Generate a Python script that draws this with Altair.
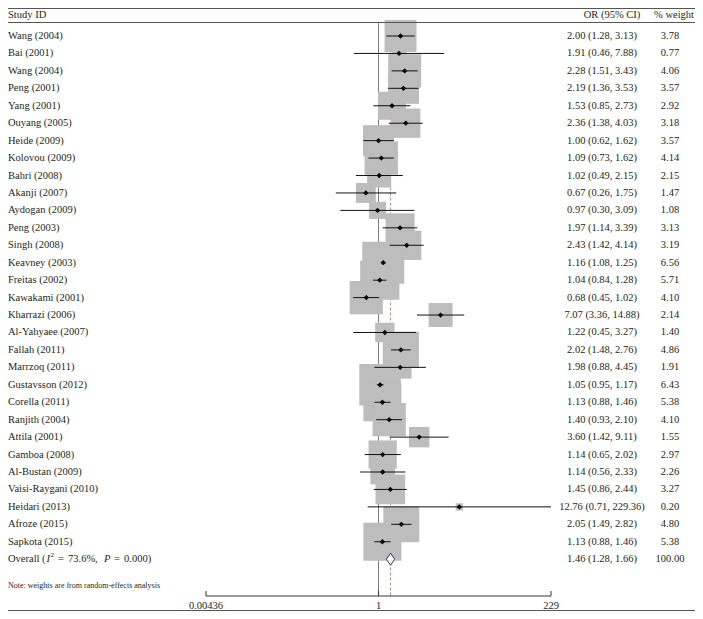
import altair as alt
import pandas as pd

studies = ["Wang (2004)", "Bai (2001)", "Wang (2004)", "Peng (2001)", "Yang (2001)",
           "Ouyang (2005)", "Heide (2009)", "Kolovou (2009)", "Bahri (2008)", "Akanji (2007)",
           "Aydogan (2009)", "Peng (2003)", "Singh (2008)", "Keavney (2003)", "Freitas (2002)",
           "Kawakami (2001)", "Kharrazi (2006)", "Al-Yahyaee (2007)", "Fallah (2011)", "Marrzoq (2011)",
           "Gustavsson (2012)", "Corella (2011)", "Ranjith (2004)", "Attila (2001)", "Gamboa (2008)",
           "Al-Bustan (2009)", "Vaisi-Raygani (2010)", "Heidari (2013)", "Afroze (2015)", "Sapkota (2015)"]
or_est = [2.00, 1.91, 2.28, 2.19, 1.53, 2.36, 1.00, 1.09, 1.02, 0.67,
          0.97, 1.97, 2.43, 1.16, 1.04, 0.68, 7.07, 1.22, 2.02, 1.98,
          1.05, 1.13, 1.40, 3.60, 1.14, 1.14, 1.45, 12.76, 2.05, 1.13]
ci_low = [1.28, 0.46, 1.51, 1.36, 0.85, 1.38, 0.62, 0.73, 0.49, 0.26,
          0.30, 1.14, 1.42, 1.08, 0.84, 0.45, 3.36, 0.45, 1.48, 0.88,
          0.95, 0.88, 0.93, 1.42, 0.65, 0.56, 0.86, 0.71, 1.49, 0.88]
ci_high = [3.13, 7.88, 3.43, 3.53, 2.73, 4.03, 1.62, 1.62, 2.15, 1.75,
           3.09, 3.39, 4.14, 1.25, 1.28, 1.02, 14.88, 3.27, 2.76, 4.45,
           1.17, 1.46, 2.10, 9.11, 2.02, 2.33, 2.44, 229.36, 2.82, 1.46]
weights = [3.78, 0.77, 4.06, 3.57, 2.92, 3.18, 3.57, 4.14, 2.15, 1.47,
           1.08, 3.13, 3.19, 6.56, 5.71, 4.10, 2.14, 1.40, 4.86, 1.91,
           6.43, 5.38, 4.10, 1.55, 2.97, 2.26, 3.27, 0.20, 4.80, 5.38]

overall_est = [1.46]
overall_low = [1.28]
overall_high = [1.66]
overall_weight = [100.00]
overall_parts = ["Overall (", "I", "2", "=", "73.6%,", "P", "=", "0.000)"]

headers = ["Study ID", "OR (95% CI)", "% weight"]
note_text = "Note: weights are from random-effects analysis"
axis_ticks = [0.00436, 1, 229]
axis_tick_labels = ["0.00436", "1", "229"]

FONT = "Liberation Serif"
TXT = "#231f20"
W, H = 687, 603

n = len(studies)
df = pd.DataFrame({
    "study": studies, "est": or_est, "lo": ci_low, "hi": ci_high, "w": weights,
    "row": list(range(n)),
})
df["or_text"] = [f"{e:.2f} ({l:.2f}, {h:.2f})" for e, l, h in zip(or_est, ci_low, ci_high)]
df["w_text"] = [f"{w:.2f}" for w in weights]

ov_row = n
ov = pd.DataFrame({"est": overall_est, "lo": overall_low, "hi": overall_high,
                   "w": overall_weight, "row": [ov_row]})
ov["or_text"] = [f"{e:.2f} ({l:.2f}, {h:.2f})" for e, l, h in zip(overall_est, overall_low, overall_high)]
ov["w_text"] = [f"{w:.2f}" for w in overall_weight]

half = 0.345
dia = pd.DataFrame({
    "x": [overall_low[0], overall_est[0], overall_high[0]],
    "y": [ov_row, ov_row - half, ov_row],
    "y2": [ov_row, ov_row + half, ov_row],
})

XS = alt.Scale(type="log", domain=[axis_ticks[0], axis_ticks[-1]], range=[198, 543], clamp=True, nice=False)
YS = alt.Scale(domain=[0, n], range=[28, 551.2], nice=False, zero=False)

one = pd.DataFrame({"k": [0]})
base = alt.Chart(df)

AX_Y = 588

ref_df = pd.DataFrame({"v": [1.0]})
ref = alt.Chart(ref_df).mark_rule(color="#7a7a7a", strokeWidth=1).encode(
    x=alt.X("v:Q", scale=XS, axis=None), y=alt.value(14.5), y2=alt.value(AX_Y))
dash = alt.Chart(ov).mark_rule(color="#c48c8c", strokeWidth=1, strokeDash=[3, 2]).encode(
    x=alt.X("est:Q", scale=XS, axis=None), y=alt.value(14.5), y2=alt.value(AX_Y))

boxes = base.mark_square(color="#bdbdbd", opacity=1, filled=True).encode(
    x=alt.X("est:Q", scale=XS, axis=None),
    y=alt.Y("row:Q", scale=YS, axis=None),
    size=alt.Size("w:Q", scale=alt.Scale(type="linear", domain=[0, 10], range=[0, 2690]), legend=None),
)
cis = base.mark_rule(color="#111111", strokeWidth=1).encode(
    x=alt.X("lo:Q", scale=XS, axis=None), x2="hi:Q",
    y=alt.Y("row:Q", scale=YS, axis=None))
pts = base.mark_point(shape="diamond", filled=True, color="#000000", size=28, opacity=1).encode(
    x=alt.X("est:Q", scale=XS, axis=None), y=alt.Y("row:Q", scale=YS, axis=None))

diamond = alt.Chart(dia).mark_area(orient="vertical", fill="white", stroke="#2e2e7e",
                                   strokeWidth=1, opacity=1).encode(
    x=alt.X("x:Q", scale=XS, axis=None),
    y=alt.Y("y:Q", scale=YS, axis=None), y2="y2:Q")

tstyle = dict(font=FONT, fontSize=10.5, color=TXT, baseline="middle")
lab = base.mark_text(align="left", **tstyle).encode(
    x=alt.value(0), y=alt.Y("row:Q", scale=YS, axis=None), text="study:N")
ortx = base.mark_text(align="center", **tstyle).encode(
    x=alt.value(594), y=alt.Y("row:Q", scale=YS, axis=None), text="or_text:N")
wtx = base.mark_text(align="center", **tstyle).encode(
    x=alt.value(662), y=alt.Y("row:Q", scale=YS, axis=None), text="w_text:N")
ov_or = alt.Chart(ov).mark_text(align="center", **tstyle).encode(
    x=alt.value(594), y=alt.Y("row:Q", scale=YS, axis=None), text="or_text:N")
ov_w = alt.Chart(ov).mark_text(align="center", **tstyle).encode(
    x=alt.value(662), y=alt.Y("row:Q", scale=YS, axis=None), text="w_text:N")

# Overall label pieces (mixed styles)
part_x = [0, 38.5, 42.5, 50, 60, 96, 106, 116]
part_style = ["normal", "italic", "normal", "normal", "normal", "italic", "normal", "normal"]
part_size = [10.5, 10.5, 7, 10.5, 10.5, 10.5, 10.5, 10.5]
part_dy = [0, 0, -4, 0, 0, 0, 0, 0]
ov_parts = []
for t, px, st, fs, dy in zip(overall_parts, part_x, part_style, part_size, part_dy):
    ov_parts.append(
        alt.Chart(ov).mark_text(align="left", baseline="middle", font=FONT, fontSize=fs,
                                fontStyle=st, color=TXT, dy=dy, text=t).encode(
            x=alt.value(px), y=alt.Y("row:Q", scale=YS, axis=None)))

HDR_Y = 6.5
hdr = [
    alt.Chart(pd.DataFrame({"h": [headers[0]]})).mark_text(align="left", **tstyle).encode(
        x=alt.value(0), y=alt.value(HDR_Y), text="h:N"),
    alt.Chart(pd.DataFrame({"h": [headers[1]]})).mark_text(align="center", **tstyle).encode(
        x=alt.value(604), y=alt.value(HDR_Y), text="h:N"),
    alt.Chart(pd.DataFrame({"h": [headers[2]]})).mark_text(align="center", **tstyle).encode(
        x=alt.value(666), y=alt.value(HDR_Y), text="h:N"),
]
lines = [
    alt.Chart(one).mark_rule(color="#555555", strokeWidth=1).encode(
        x=alt.value(0), x2=alt.value(W), y=alt.value(0.5)),
    alt.Chart(one).mark_rule(color="#555555", strokeWidth=1).encode(
        x=alt.value(0), x2=alt.value(W), y=alt.value(14.5)),
    alt.Chart(one).mark_rule(color="#555555", strokeWidth=1).encode(
        x=alt.value(0), x2=alt.value(W), y=alt.value(602.5)),
]
note = alt.Chart(pd.DataFrame({"t": [note_text]})).mark_text(
    align="left", baseline="middle", font=FONT, fontSize=8, color=TXT).encode(
    x=alt.value(0), y=alt.value(578), text="t:N")

ax_df = pd.DataFrame({"lo": [axis_ticks[0]], "hi": [axis_ticks[-1]]})
ax_line = alt.Chart(ax_df).mark_rule(color="#333333", strokeWidth=1).encode(
    x=alt.X("lo:Q", scale=XS, axis=None), x2="hi:Q", y=alt.value(AX_Y))
tk_df = pd.DataFrame({"t": axis_ticks, "lab": axis_tick_labels})
ax_ticks = alt.Chart(tk_df).mark_rule(color="#333333", strokeWidth=1).encode(
    x=alt.X("t:Q", scale=XS, axis=None), y=alt.value(AX_Y - 5), y2=alt.value(AX_Y))
ax_labels = alt.Chart(tk_df).mark_text(font=FONT, fontSize=10.5, color=TXT, baseline="middle",
                                      align="center").encode(
    x=alt.X("t:Q", scale=XS, axis=None), y=alt.value(AX_Y + 10), text="lab:N")

chart = alt.layer(
    ref, dash, boxes, cis, pts, diamond, lab, ortx, wtx, ov_or, ov_w, *ov_parts,
    *hdr, *lines, note, ax_line, ax_ticks, ax_labels
).properties(width=W, height=H, padding=0, autosize="none",
             background="white").configure_view(stroke=None)

chart.save("out.html", embed_options={"renderer": "svg", "actions": False})
